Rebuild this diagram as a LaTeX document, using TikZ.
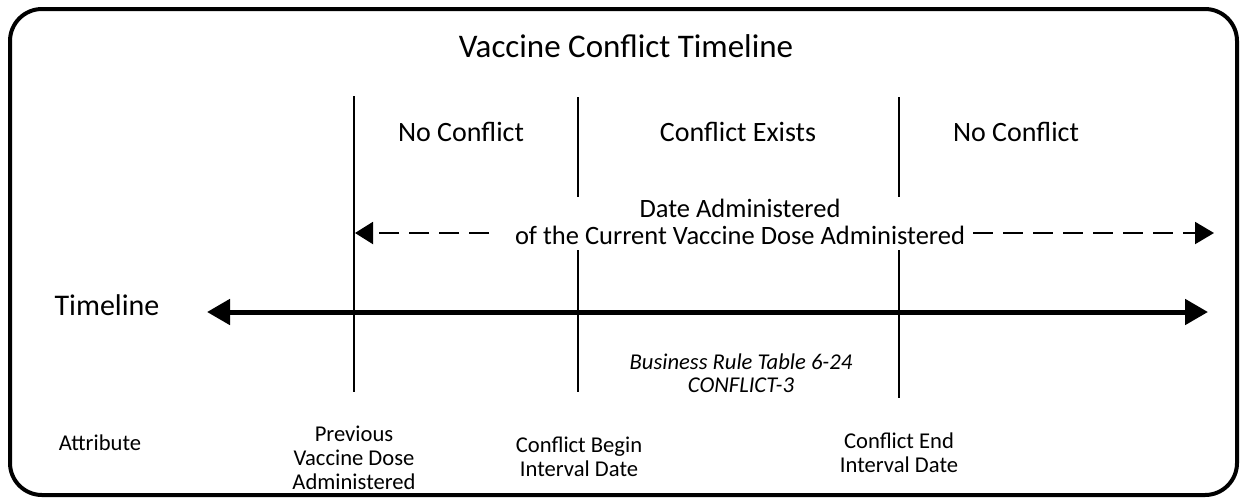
\documentclass[tikz,border=0pt]{standalone}
\usepackage{fontspec}
\setmainfont{Carlito}
\usetikzlibrary{arrows.meta}
\begin{document}
\begin{tikzpicture}[x=1pt,y=-1pt,
  lbl/.style={inner sep=0pt, align=center},
  titlefont/.style={lbl, font=\fontsize{33}{40}\selectfont},
  regionfont/.style={lbl, font=\fontsize{28}{33}\selectfont},
  datefont/.style={lbl, font=\fontsize{26.5}{27}\selectfont},
  tlfont/.style={lbl, font=\fontsize{30}{34}\selectfont},
  rulefont/.style={lbl, font=\fontsize{22.6}{23.5}\selectfont\itshape},
  attrfont/.style={lbl, font=\fontsize{22.6}{24}\selectfont},
  divider/.style={line width=2pt},
  dashline/.style={line width=2pt, dash pattern=on 20pt off 10pt},
  tlarrow/.style={line width=5pt, {Triangle[length=23pt,width=25pt]}-{Triangle[length=23pt,width=25pt]}},
]
\useasboundingbox (0,0) rectangle (1241,499);
% outer frame
\draw[line width=4pt, rounded corners=32pt] (10,9) rectangle (1237,495);

% title
\node[titlefont] (title) at (626,46) {Vaccine Conflict Timeline};

% region labels
\node[regionfont] (nc1) at (461,132) {No Conflict};
\node[regionfont] (ce) at (738,132) {Conflict Exists};
\node[regionfont] (nc2) at (1016,132) {No Conflict};

% date administered text
\node[datefont] (da) at (740,222) {Date Administered\\of the Current Vaccine Dose Administered};

% timeline label
\node[tlfont] (tl) at (107,305) {Timeline};

% business rule
\node[rulefont] (br) at (741,373) {Business Rule Table 6-24\\CONFLICT-3};

% bottom labels
\node[attrfont] (attr) at (100,443) {Attribute};
\node[attrfont] (prev) at (354,458) {Previous\\Vaccine Dose\\Administered};
\node[attrfont] (cbeg) at (579,457) {Conflict Begin\\Interval Date};
\node[attrfont] (cend) at (899,453) {Conflict End\\Interval Date};

% divider coordinates
\coordinate (a1) at (354,96);
\coordinate (a2) at (354,392);
\coordinate (b1) at (578,97);
\coordinate (b2) at (578,197);
\coordinate (b3) at (578,250);
\coordinate (b4) at (578,392);
\coordinate (c1) at (899,97);
\coordinate (c2) at (899,197);
\coordinate (c3) at (899,250);
\coordinate (c4) at (899,398);

\draw[divider] (a1) -- (a2);
\draw[divider] (b1) -- (b2);
\draw[divider] (b3) -- (b4);
\draw[divider] (c1) -- (c2);
\draw[divider] (c3) -- (c4);

% timeline arrow
\coordinate (tlL) at (207,312);
\coordinate (tlR) at (1208,312);
\draw[tlarrow] (tlL) -- (tlR);

% dashed arrows
\coordinate (dl1) at (489,233);
\coordinate (dl2) at (355,233);
\coordinate (dr1) at (973,233);
\coordinate (dr2) at (1214,233);
\draw[dashline, -{Triangle[length=18pt,width=22pt]}] (dl1) -- (dl2);
\draw[dashline, -{Triangle[length=19pt,width=22pt]}] (dr1) -- (dr2);
\end{tikzpicture}
\end{document}
